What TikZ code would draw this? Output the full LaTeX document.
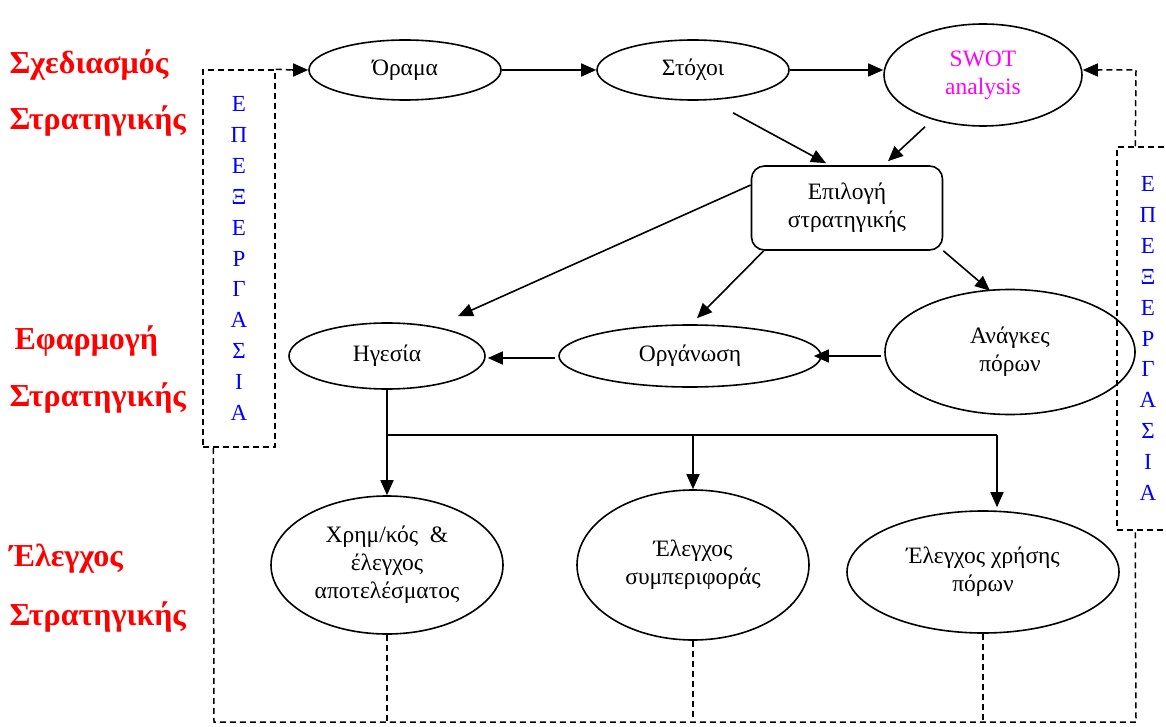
\documentclass[tikz,border=0pt]{standalone}
\usepackage{fontspec}
\setmainfont{Liberation Serif}
\usetikzlibrary{shapes.geometric,arrows.meta,calc}
\definecolor{lblred}{RGB}{255,0,0}
\definecolor{lblblue}{RGB}{0,0,255}
\definecolor{swotmag}{RGB}{255,0,255}
\tikzset{
  ell/.style={ellipse,draw,line width=1.6pt,inner sep=0pt,align=center,font=\fontsize{23.5}{28}\selectfont},
  rbox/.style={rectangle,rounded corners=13pt,draw,line width=1.6pt,inner sep=0pt,align=center,font=\fontsize{23.5}{28}\selectfont},
  arr/.style={line width=1.6pt,-{Triangle[length=15pt,width=13pt]}},
  ln/.style={line width=1.6pt},
  dsh/.style={line width=1.5pt,dash pattern=on 6pt off 4pt},
  phase/.style={anchor=west,text=lblred,font=\fontsize{32}{36}\selectfont\bfseries},
  vbox/.style={rectangle,draw,dsh,inner sep=0pt,align=center,text=lblblue,font=\fontsize{23}{30.9}\selectfont}
}
\begin{document}
\begin{tikzpicture}[x=1pt,y=-1pt]
\useasboundingbox (0,0) rectangle (1166,727);

% phase labels
\node[phase] (p1a) at (6,65) {Σχεδιασμός};
\node[phase] (p1b) at (6,121) {Στρατηγικής};
\node[phase] (p2a) at (11,341) {Εφαρμογή};
\node[phase] (p2b) at (6,398) {Στρατηγικής};
\node[phase] (p3a) at (6,559) {Έλεγχος};
\node[phase] (p3b) at (6,617) {Στρατηγικής};

% main nodes
\node[ell,minimum width=192pt,minimum height=60pt] (orama) at (405,70) {Όραμα};
\node[ell,minimum width=192pt,minimum height=60pt] (stoxoi) at (693,70) {Στόχοι};
\node[ell,minimum width=198pt,minimum height=102pt,text=swotmag] (swot) at (983,75) {SWOT\\analysis};
\node[rbox,minimum width=191pt,minimum height=84pt] (epil) at (847,208) {Επιλογή\\στρατηγικής};
\node[ell,minimum width=196pt,minimum height=66pt] (hges) at (387,356) {Ηγεσία};
\node[ell,minimum width=262pt,minimum height=62pt] (org) at (690,356) {Οργάνωση};
\node[ell,minimum width=250pt,minimum height=125pt] (anag) at (1010,352) {Ανάγκες\\πόρων};
\node[ell,minimum width=232pt,minimum height=138pt] (xrhm) at (387,565) {Χρημ/κός \ \&\\έλεγχος\\αποτελέσματος};
\node[ell,minimum width=232pt,minimum height=150pt] (symp) at (693,565) {Έλεγχος\\συμπεριφοράς};
\node[ell,minimum width=272pt,minimum height=122pt] (xrhs) at (983,572) {Έλεγχος χρήσης\\πόρων};

% feedback boxes
\node[vbox,minimum width=72pt,minimum height=377pt] (lbox) at (239,258.5)
  {Ε\\Π\\Ε\\Ξ\\Ε\\Ρ\\Γ\\Α\\Σ\\Ι\\Α};
\node[vbox,minimum width=62pt,minimum height=383pt] (rbox) at (1148,338.5)
  {Ε\\Π\\Ε\\Ξ\\Ε\\Ρ\\Γ\\Α\\Σ\\Ι\\Α};

% solid arrows
\draw[arr] (orama.east) -- (stoxoi.west);
\draw[arr] (stoxoi.east) -- (swot.west |- stoxoi.east);
\draw[arr] ($(stoxoi.south)+(40,12)$) -- ($(epil.north)+(-21,-2)$);
\draw[arr] ($(swot.south)+(-58,0)$) -- ($(epil.north)+(41,-4)$);
\draw[arr] ($(epil.west)+(0,-23)$) -- ($(hges.north)+(71,-6)$);
\draw[arr] ($(epil.south west)+(13,0)$) -- ($(org.north)+(7,-6)$);
\draw[arr] (epil.south east) -- ($(anag.north)+(-20,2)$);
\draw[arr] ($(anag.west)+(-3,4)$) -- ($(org.east)+(-8,0)$);
\draw[arr] ($(org.west)+(-3,2)$) -- ($(hges.east)+(2,2)$);

% distribution from leadership
\coordinate (j1) at (387,435);
\coordinate (j2) at (693,435);
\coordinate (j3) at (997,435);
\draw[ln] (hges.south) -- (j1) -- (j3);
\draw[arr] (j1) -- (xrhm.north);
\draw[arr] (j2) -- (symp.north);
\draw[arr] (j3) -- ($(xrhs.north)+(14,-3)$);

% dashed feedback
\coordinate (bl) at (214,722);
\coordinate (br) at (1136,722);
\coordinate (b1) at (387,722);
\coordinate (b2) at (693,718);
\coordinate (b3) at (983,722);
\coordinate (rt) at (1136,70);
\coordinate (sw) at ($(swot.east)+(16,-5)$);
\coordinate (ow) at ($(orama.west)+(-16,0)$);
\draw[dsh] ($(lbox.south west)+(11,0)$) -- (bl) -- (br) -- ($(rbox.south west)+(19,0)$);
\draw[dsh] (xrhm.south) -- (b1);
\draw[dsh] (symp.south) -- (b2);
\draw[dsh] (xrhs.south) -- (b3);
\draw[dsh] ($(rbox.north west)+(19,0)$) -- (rt) -- (sw);
\draw[arr] (sw) -- ($(swot.east)+(0,-5)$);
\draw[dsh] (lbox.north east) -- (ow);
\draw[arr] (ow) -- (orama.west);
\end{tikzpicture}
\end{document}
